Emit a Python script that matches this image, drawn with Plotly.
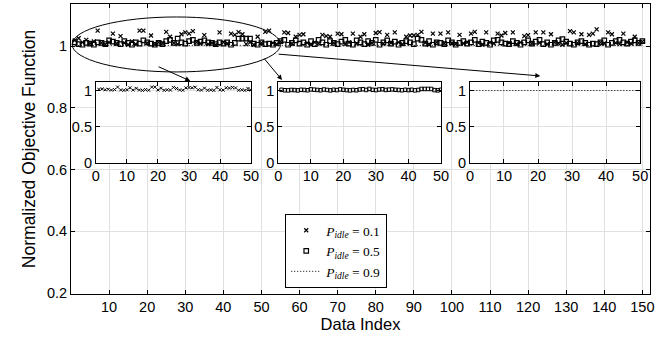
import plotly.graph_objects as go

idx = list(range(1, 151))

p01 = [1.018, 1.025, 1.012, 1.020, 1.008, 1.015, 1.050, 1.010, 1.005, 1.012,
       1.040, 1.008, 1.032, 1.010, 1.004, 1.015, 1.006, 1.050, 1.050, 1.010,
       1.034, 1.005, 1.012, 1.008, 1.046, 1.030, 1.010, 1.006, 1.038, 1.044,
       1.040, 1.048, 1.012, 1.008, 1.035, 1.006, 1.010, 1.004, 1.044, 1.012,
       1.008, 1.040, 1.036, 1.045, 1.038, 1.006, 1.012, 1.004, 1.030, 1.010,
       1.046, 1.050, 1.010, 1.006, 1.015, 1.044, 1.042, 1.008, 1.030, 1.036,
       1.038, 1.010, 1.004, 1.012, 1.008, 1.036, 1.032, 1.030, 1.010, 1.040,
       1.038, 1.006, 1.012, 1.040, 1.008, 1.030, 1.038, 1.004, 1.010, 1.042,
       1.045, 1.008, 1.036, 1.010, 1.044, 1.012, 1.006, 1.030, 1.034, 1.034,
       1.036, 1.046, 1.010, 1.004, 1.040, 1.012, 1.040, 1.008, 1.044, 1.010,
       1.006, 1.036, 1.008, 1.012, 1.040, 1.046, 1.010, 1.004, 1.044, 1.012,
       1.008, 1.040, 1.034, 1.042, 1.010, 1.044, 1.006, 1.012, 1.032, 1.035,
       1.008, 1.044, 1.010, 1.044, 1.006, 1.038, 1.012, 1.008, 1.004, 1.010,
       1.048, 1.044, 1.010, 1.038, 1.006, 1.036, 1.040, 1.054, 1.012, 1.008,
       1.044, 1.038, 1.010, 1.006, 1.040, 1.012, 1.008, 1.030, 1.010, 1.014]

p05 = [1.012, 1.006, 1.004, 1.010, 1.008, 1.004, 1.012, 1.010, 1.006, 1.018,
       1.014, 1.010, 1.006, 1.016, 1.010, 1.004, 1.012, 1.008, 1.018, 1.012,
       1.008, 1.004, 1.010, 1.006, 1.016, 1.020, 1.010, 1.024, 1.012, 1.008,
       1.016, 1.020, 1.010, 1.014, 1.018, 1.012, 1.010, 1.006, 1.012, 1.008,
       1.012, 1.004, 1.010, 1.024, 1.024, 1.024, 1.024, 1.008, 1.004, 1.012,
       1.006, 1.008, 1.004, 1.010, 1.016, 1.020, 1.004, 1.010, 1.018, 1.008,
       1.012, 1.004, 1.016, 1.006, 1.020, 1.012, 1.004, 1.016, 1.010, 1.006,
       1.014, 1.020, 1.008, 1.004, 1.018, 1.012, 1.006, 1.016, 1.010, 1.020,
       1.004, 1.012, 1.018, 1.008, 1.014, 1.004, 1.010, 1.016, 1.012, 1.006,
       1.024, 1.020, 1.008, 1.016, 1.004, 1.012, 1.010, 1.006, 1.018, 1.012,
       1.004, 1.010, 1.016, 1.008, 1.012, 1.020, 1.006, 1.014, 1.010, 1.004,
       1.018, 1.020, 1.012, 1.008, 1.006, 1.016, 1.010, 1.004, 1.012, 1.018,
       1.008, 1.014, 1.020, 1.006, 1.012, 1.004, 1.010, 1.018, 1.022, 1.014,
       1.008, 1.004, 1.012, 1.016, 1.010, 1.004, 1.008, 1.006, 1.012, 1.018,
       1.004, 1.010, 1.016, 1.020, 1.012, 1.008, 1.014, 1.018, 1.010, 1.016]

p09 = [1.002, 1.001, 1.002, 1.001, 1.002, 1.002, 1.001, 1.002, 1.001, 1.002,
       1.001, 1.002, 1.002, 1.001, 1.002, 1.001, 1.002, 1.001, 1.002, 1.002,
       1.001, 1.002, 1.001, 1.002, 1.001, 1.002, 1.002, 1.001, 1.002, 1.001,
       1.002, 1.001, 1.002, 1.002, 1.001, 1.002, 1.001, 1.002, 1.001, 1.002,
       1.002, 1.001, 1.002, 1.001, 1.002, 1.001, 1.002, 1.002, 1.001, 1.002,
       1.001, 1.002, 1.001, 1.002, 1.002, 1.001, 1.002, 1.001, 1.002, 1.001,
       1.002, 1.002, 1.001, 1.002, 1.001, 1.002, 1.001, 1.002, 1.002, 1.001,
       1.002, 1.001, 1.002, 1.001, 1.002, 1.002, 1.001, 1.002, 1.001, 1.002,
       1.001, 1.002, 1.002, 1.001, 1.002, 1.001, 1.002, 1.001, 1.002, 1.002,
       1.001, 1.002, 1.001, 1.002, 1.001, 1.002, 1.002, 1.001, 1.002, 1.001,
       1.002, 1.001, 1.002, 1.002, 1.001, 1.002, 1.001, 1.002, 1.001, 1.002,
       1.002, 1.001, 1.002, 1.001, 1.002, 1.001, 1.002, 1.002, 1.001, 1.002,
       1.001, 1.002, 1.001, 1.002, 1.002, 1.001, 1.002, 1.001, 1.002, 1.001,
       1.002, 1.002, 1.001, 1.002, 1.001, 1.002, 1.001, 1.002, 1.002, 1.001,
       1.002, 1.001, 1.002, 1.001, 1.002, 1.002, 1.001, 1.002, 1.001, 1.002]

legend_names = ["<i>P</i><sub><i>idle</i></sub> = 0.1",
                "<i>P</i><sub><i>idle</i></sub> = 0.5",
                "<i>P</i><sub><i>idle</i></sub> = 0.9"]

main_xticks = list(range(10, 151, 10))
main_yticks = [0.2, 0.4, 0.6, 0.8, 1.0]
main_yticklabels = ["0.2", "0.4", "0.6", "0.8", "1"]
inset_n = 50
inset_xticks = [0, 10, 20, 30, 40, 50]
inset_yticks = [0, 0.5, 1]
inset_yticklabels = ["0", "0.5", "1"]

GRID = "#e0e0e0"
FONT = "Liberation Sans, Arial, sans-serif"
DOTS = "1px,2px"

fig = go.Figure()

# main traces
fig.add_trace(go.Scatter(x=idx, y=p01, mode="markers", name=legend_names[0],
                         marker=dict(symbol="x-thin-open", size=4, color="black",
                                     line=dict(width=1.2, color="black")),
                         xaxis="x", yaxis="y"))
fig.add_trace(go.Scatter(x=idx, y=p05, mode="markers", name=legend_names[1],
                         marker=dict(symbol="square-open", size=4.5, color="black",
                                     line=dict(width=1.2, color="black")),
                         xaxis="x", yaxis="y"))
fig.add_trace(go.Scatter(x=idx, y=p09, mode="lines", name=legend_names[2],
                         line=dict(color="black", width=1, dash=DOTS),
                         xaxis="x", yaxis="y"))

# insets
fig.add_trace(go.Scatter(x=idx[:inset_n], y=p01[:inset_n], mode="markers", showlegend=False,
                         marker=dict(symbol="x-thin-open", size=3, color="black",
                                     line=dict(width=1, color="black")),
                         xaxis="x2", yaxis="y2"))
fig.add_trace(go.Scatter(x=idx[:inset_n], y=p05[:inset_n], mode="markers", showlegend=False,
                         marker=dict(symbol="square-open", size=3.5, color="black",
                                     line=dict(width=1, color="black")),
                         xaxis="x3", yaxis="y3"))
fig.add_trace(go.Scatter(x=idx[:inset_n], y=p09[:inset_n], mode="lines", showlegend=False,
                         line=dict(color="black", width=1, dash=DOTS),
                         xaxis="x4", yaxis="y4"))

common_ax = dict(showline=True, linecolor="black", linewidth=1, mirror="ticks",
                 ticks="inside", ticklen=4, tickcolor="black", showgrid=True,
                 gridcolor=GRID, gridwidth=1, zeroline=False, automargin=False,
                 tickfont=dict(family=FONT, size=14.5, color="black"))

layout = dict(
    width=670, height=338,
    margin=dict(l=71, r=20, t=4, b=44),
    plot_bgcolor="white", paper_bgcolor="white",
    font=dict(family=FONT, color="black"),
    xaxis=dict(range=[0, 152], domain=[0, 1], tickvals=main_xticks,
               title=dict(text="Data Index", font=dict(size=16.5), standoff=4),
               **common_ax),
    yaxis=dict(range=[0.197, 1.136], domain=[0, 1], tickvals=main_yticks,
               ticktext=main_yticklabels,
               title=dict(text="Normalized Objective Function", font=dict(size=17.5), standoff=6),
               **common_ax),
    legend=dict(x=0.37, y=0.276, xanchor="left", yanchor="top",
                bgcolor="white", bordercolor="black", borderwidth=1,
                font=dict(family="Liberation Serif, serif", size=13.5, color="black"),
                tracegroupgap=0, itemwidth=30),
)

inset_x_domains = [[0.043, 0.311], [0.358, 0.639], [0.689, 0.983]]
inset_y_domain = [0.452, 0.731]
for k, dom in enumerate(inset_x_domains):
    n = k + 2
    layout[f"xaxis{n}"] = dict(range=[0, 50], domain=dom, anchor=f"y{n}",
                               tickvals=inset_xticks, **common_ax)
    layout[f"yaxis{n}"] = dict(range=[0, 1.12], domain=inset_y_domain, anchor=f"x{n}",
                               tickvals=inset_yticks, ticktext=inset_yticklabels,
                               **common_ax)

fig.update_layout(**layout)

shapes = []
for k in range(3):
    n = k + 2
    shapes.append(dict(type="rect", xref=f"x{n}", yref=f"y{n}", x0=0, x1=50, y0=0, y1=1.12,
                       fillcolor="white", line=dict(width=0), layer="below"))
shapes.append(dict(type="circle", xref="x", yref="y", x0=0.3, x1=55, y0=0.916, y1=1.094,
                   line=dict(color="black", width=1)))
fig.update_layout(shapes=shapes)

arrows = [((22.6, 0.935), (31.3, 0.887)),
          ((50.4, 0.964), (55.4, 0.890)),
          ((54.1, 0.974), (123.2, 0.903))]
for (tx, ty), (hx, hy) in arrows:
    fig.add_annotation(x=hx, y=hy, ax=tx, ay=ty, xref="x", yref="y", axref="x", ayref="y",
                       showarrow=True, arrowhead=2, arrowsize=1, arrowwidth=1,
                       arrowcolor="black", text="")

fig.write_html("out.html", config={"displayModeBar": False},
               post_script="document.body.style.margin='0';document.body.style.overflow='hidden';")
